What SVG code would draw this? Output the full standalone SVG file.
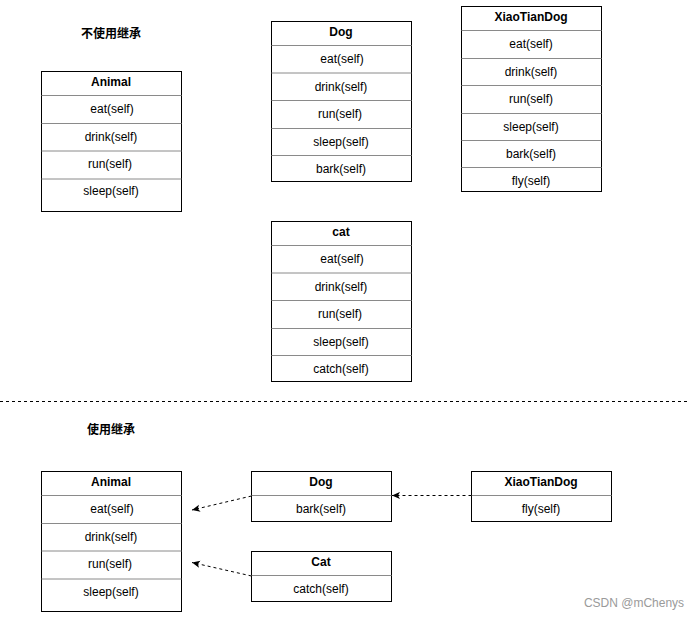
<svg xmlns="http://www.w3.org/2000/svg" width="699" height="619" viewBox="0 0 699 619">
<style>
.box{fill:#fff;stroke:#000;stroke-width:1}
.sep{stroke:#8a8a8a;stroke-width:1}
.t{font-family:"Liberation Sans",Arial,sans-serif;font-size:12px;fill:#000;text-anchor:middle;dominant-baseline:central}
.h{font-weight:bold}
.cn{font-family:"Liberation Sans","Noto Sans CJK SC",sans-serif;font-size:12px;font-weight:bold;fill:#000;text-anchor:middle;dominant-baseline:central}
.edge{fill:none;stroke:#000;stroke-width:1;stroke-dasharray:3,3}
</style>
<defs>
<marker id="arr" viewBox="0 0 10 10" refX="10" refY="5" markerWidth="8" markerHeight="8" markerUnits="userSpaceOnUse" orient="auto">
<path d="M10,5 L0,0.5 L2.5,5 L0,9.5 Z" fill="#000"/>
</marker>
</defs>
<rect width="699" height="619" fill="#fff"/>
<text class="cn" x="111" y="34">不使用继承</text>
<text class="cn" x="111" y="430">使用继承</text>
<line x1="0" y1="401.5" x2="690" y2="401.5" stroke="#000" stroke-dasharray="3,3"/>

<g id="animal-top">
<rect class="box" x="41.5" y="71.5" width="140" height="140"/>
<line class="sep" x1="41.5" y1="95.5" x2="181.5" y2="95.5"/>
<line class="sep" x1="41.5" y1="123.5" x2="181.5" y2="123.5"/>
<line class="sep" x1="41.5" y1="151" x2="181.5" y2="151"/>
<line class="sep" x1="41.5" y1="179" x2="181.5" y2="179"/>
<text class="t h" x="111" y="82">Animal</text>
<text class="t" x="112" y="109">eat(self)</text>
<text class="t" x="111" y="137">drink(self)</text>
<text class="t" x="110" y="164">run(self)</text>
<text class="t" x="111" y="191">sleep(self)</text>
</g>

<g id="dog-top">
<rect class="box" x="271.5" y="21.5" width="140" height="160"/>
<line class="sep" x1="271.5" y1="45.5" x2="411.5" y2="45.5"/>
<line class="sep" x1="271.5" y1="73" x2="411.5" y2="73"/>
<line class="sep" x1="271.5" y1="100.5" x2="411.5" y2="100.5"/>
<line class="sep" x1="271.5" y1="128.5" x2="411.5" y2="128.5"/>
<line class="sep" x1="271.5" y1="155.5" x2="411.5" y2="155.5"/>
<text class="t h" x="341" y="32">Dog</text>
<text class="t" x="342" y="59">eat(self)</text>
<text class="t" x="341" y="87">drink(self)</text>
<text class="t" x="340" y="114">run(self)</text>
<text class="t" x="341" y="142">sleep(self)</text>
<text class="t" x="341" y="169">bark(self)</text>
</g>

<g id="xiaotiandog-top">
<rect class="box" x="461.5" y="6.5" width="140" height="185"/>
<line class="sep" x1="461.5" y1="30.5" x2="601.5" y2="30.5"/>
<line class="sep" x1="461.5" y1="58.5" x2="601.5" y2="58.5"/>
<line class="sep" x1="461.5" y1="85.5" x2="601.5" y2="85.5"/>
<line class="sep" x1="461.5" y1="113.5" x2="601.5" y2="113.5"/>
<line class="sep" x1="461.5" y1="140.5" x2="601.5" y2="140.5"/>
<line class="sep" x1="461.5" y1="167.5" x2="601.5" y2="167.5"/>
<text class="t h" x="531" y="17">XiaoTianDog</text>
<text class="t" x="531" y="44">eat(self)</text>
<text class="t" x="531" y="72">drink(self)</text>
<text class="t" x="531" y="99">run(self)</text>
<text class="t" x="531" y="127">sleep(self)</text>
<text class="t" x="531" y="154">bark(self)</text>
<text class="t" x="531" y="181">fly(self)</text>
</g>

<g id="cat-top">
<rect class="box" x="271.5" y="221.5" width="140" height="160"/>
<line class="sep" x1="271.5" y1="245.5" x2="411.5" y2="245.5"/>
<line class="sep" x1="271.5" y1="273" x2="411.5" y2="273"/>
<line class="sep" x1="271.5" y1="300.5" x2="411.5" y2="300.5"/>
<line class="sep" x1="271.5" y1="328.5" x2="411.5" y2="328.5"/>
<line class="sep" x1="271.5" y1="355.5" x2="411.5" y2="355.5"/>
<text class="t h" x="341" y="232">cat</text>
<text class="t" x="342" y="259">eat(self)</text>
<text class="t" x="341" y="287">drink(self)</text>
<text class="t" x="340" y="314">run(self)</text>
<text class="t" x="341" y="342">sleep(self)</text>
<text class="t" x="341" y="369">catch(self)</text>
</g>

<g id="animal-bottom">
<rect class="box" x="41.5" y="471.5" width="140" height="140"/>
<line class="sep" x1="41.5" y1="495.5" x2="181.5" y2="495.5"/>
<line class="sep" x1="41.5" y1="523.5" x2="181.5" y2="523.5"/>
<line class="sep" x1="41.5" y1="551" x2="181.5" y2="551"/>
<line class="sep" x1="41.5" y1="579" x2="181.5" y2="579"/>
<text class="t h" x="111" y="482">Animal</text>
<text class="t" x="112" y="509">eat(self)</text>
<text class="t" x="111" y="537">drink(self)</text>
<text class="t" x="110" y="564">run(self)</text>
<text class="t" x="111" y="592">sleep(self)</text>
</g>

<g id="dog-bottom">
<rect class="box" x="251.5" y="471.5" width="140" height="50"/>
<line class="sep" x1="251.5" y1="495.5" x2="391.5" y2="495.5"/>
<text class="t h" x="321" y="482">Dog</text>
<text class="t" x="321" y="509">bark(self)</text>
</g>

<g id="cat-bottom">
<rect class="box" x="251.5" y="551.5" width="140" height="50"/>
<line class="sep" x1="251.5" y1="575.5" x2="391.5" y2="575.5"/>
<text class="t h" x="321" y="562">Cat</text>
<text class="t" x="321" y="589">catch(self)</text>
</g>

<g id="xiaotiandog-bottom">
<rect class="box" x="471.5" y="471.5" width="140" height="50"/>
<line class="sep" x1="471.5" y1="495.5" x2="611.5" y2="495.5"/>
<text class="t h" x="541" y="482">XiaoTianDog</text>
<text class="t" x="541" y="509">fly(self)</text>
</g>

<g id="connectors">
<path class="edge" d="M251.5,496 L192,510" marker-end="url(#arr)"/>
<path class="edge" d="M251.5,576 L192,562.5" marker-end="url(#arr)"/>
<path class="edge" d="M471.5,495.5 L392,495.5" marker-end="url(#arr)"/>
</g>

<text x="634" y="603" font-family="'Liberation Sans',Arial,sans-serif" font-size="12" fill="#9a9a9a" text-anchor="middle" dominant-baseline="central">CSDN @mChenys</text>
</svg>
